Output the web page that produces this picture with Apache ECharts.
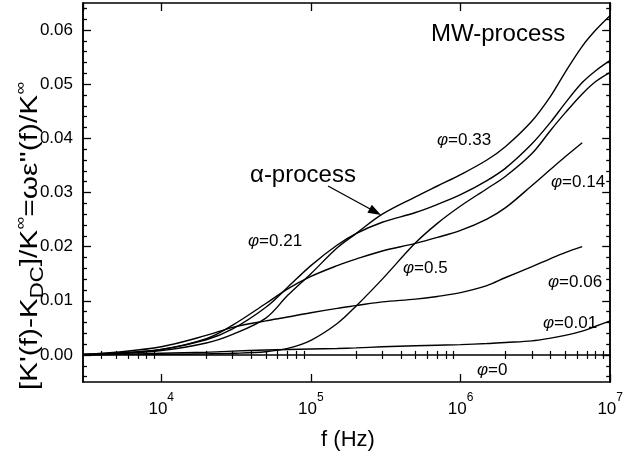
<!DOCTYPE html>
<html>
<head>
<meta charset="utf-8">
<script src="https://cdn.jsdelivr.net/npm/echarts@6/dist/echarts.min.js"></script>
<style>
  html, body { margin: 0; padding: 0; background: #fff; }
  #chart { width: 626px; height: 459px; }
</style>
</head>
<body>
<div id="chart"></div>
<script>
// Frequency grid (Hz)
const freq = [3e3, 5e3, 1e4, 2e4, 3e4, 5e4, 7e4, 1e5, 1.5e5, 2e5, 3e5, 5e5, 7e5,
              1e6, 1.5e6, 2e6, 3e6, 4e6, 5e6, 6.5e6, 8e6, 1e7];

// Normalised loss curves for each volume fraction phi
const phi0   = [0, 0, 0, 0, 0, 0, 0, 0, 0, 0, 0, 0, 0, 0, 0, 0, 0, 0, 0, 0, 0, 0];
const phi001 = [0.0000, 0.0001, 0.0003, 0.0005, 0.0007, 0.0009, 0.0010, 0.0011, 0.0012, 0.0013, 0.0015,
                0.0017, 0.0018, 0.0019, 0.0021, 0.0023, 0.0026, 0.0031, 0.0036, 0.0044, 0.0053, 0.0063];
const phi006 = [0.0001, 0.0005, 0.0015, 0.0036, 0.0051, 0.0063, 0.0070, 0.0078, 0.0086, 0.0091, 0.0098,
                0.0103, 0.0108, 0.0115, 0.0128, 0.0143, 0.0163, 0.0178, 0.0189, 0.0200];
const phi014 = [0.0001, 0.0003, 0.0010, 0.0030, 0.0055, 0.0095, 0.0122, 0.0145, 0.0165, 0.0177, 0.0192,
                0.0206, 0.0217, 0.0230, 0.0251, 0.0272, 0.0313, 0.0343, 0.0366, 0.0392];
const phi021 = [0.0001, 0.0003, 0.0010, 0.0028, 0.0048, 0.0088, 0.0125, 0.0165, 0.0203, 0.0224, 0.0245,
                0.0263, 0.0278, 0.0296, 0.0322, 0.0345, 0.0390, 0.0430, 0.0465, 0.0503, 0.0525, 0.0544];
const phi033 = [0.0001, 0.0002, 0.0008, 0.0022, 0.0038, 0.0068, 0.0110, 0.0150, 0.0198, 0.0224, 0.0260,
                0.0292, 0.0312, 0.0333, 0.0360, 0.0385, 0.0432, 0.0478, 0.0522, 0.0570, 0.0600, 0.0627];
const phi05  = [0.0000, 0.0001, 0.0001, 0.0002, 0.0003, 0.0006, 0.0012, 0.0027, 0.0058, 0.0090, 0.0140,
                0.0207, 0.0243, 0.0275, 0.0307, 0.0330, 0.0372, 0.0415, 0.0447, 0.0482, 0.0505, 0.0522];

// Axis ranges and tick values
const xMin = 3000, xMax = 1e7;
const yMin = -0.005, yMax = 0.065;
const yMajorTicks = [0, 0.01, 0.02, 0.03, 0.04, 0.05, 0.06];
const yMinorTicks = [-0.004, -0.002, 0.002, 0.004, 0.006, 0.008, 0.012, 0.014, 0.016, 0.018,
                     0.022, 0.024, 0.026, 0.028, 0.032, 0.034, 0.036, 0.038, 0.042, 0.044,
                     0.046, 0.048, 0.052, 0.054, 0.056, 0.058, 0.062, 0.064];
const xMinorTicks = [4e3, 5e3, 6e3, 7e3, 8e3, 9e3, 2e4, 3e4, 4e4, 5e4, 6e4, 7e4, 8e4, 9e4,
                     2e5, 3e5, 4e5, 5e5, 6e5, 7e5, 8e5, 9e5, 2e6, 3e6, 4e6, 5e6, 6e6, 7e6, 8e6, 9e6];

const FONT = '"Liberation Sans", Arial, sans-serif';
const INK = '#000';

function pairs(values) {
  return values.map((v, i) => [freq[i], v]);
}

const curves = [
  { name: 'phi=0', data: phi0 },
  { name: 'phi=0.01', data: phi001 },
  { name: 'phi=0.06', data: phi006 },
  { name: 'phi=0.14', data: phi014 },
  { name: 'phi=0.21', data: phi021 },
  { name: 'phi=0.33', data: phi033 },
  { name: 'phi=0.5', data: phi05 }
];

const axisLine = { show: true, onZero: false, lineStyle: { color: INK, width: 1.5 } };

function logXAxis(position, withLabels) {
  return {
    type: 'log', logBase: 10, min: xMin, max: xMax, position: position, gridIndex: 0,
    axisLine: axisLine,
    axisTick: { show: true, inside: true, length: 8, lineStyle: { color: INK, width: 1.3 } },
    splitLine: { show: false },
    axisLabel: withLabels ? {
      show: true, margin: 10, color: INK, fontFamily: FONT, fontSize: 17,
      showMinLabel: false,
      formatter: function (v) {
        const e = Math.round(Math.log10(v));
        if (Math.abs(v - Math.pow(10, e)) > 1e-6 * v) return '';
        return '{b|10}{s|' + e + '}';
      },
      rich: {
        b: { fontFamily: FONT, fontSize: 17, color: INK, lineHeight: 26, verticalAlign: 'bottom' },
        s: { fontFamily: FONT, fontSize: 12, color: INK, lineHeight: 12, verticalAlign: 'top' }
      }
    } : { show: false }
  };
}

function minorXAxis(position) {
  return {
    type: 'log', logBase: 10, min: xMin, max: xMax, position: position, gridIndex: 0,
    axisLine: { show: false },
    axisTick: { show: true, inside: true, length: 4, customValues: xMinorTicks,
                lineStyle: { color: INK, width: 1.2 } },
    axisLabel: { show: false, customValues: xMinorTicks },
    splitLine: { show: false }
  };
}

function yAxisDef(position, ticks, len, withLabels) {
  return {
    type: 'value', min: yMin, max: yMax, position: position, gridIndex: 0,
    axisLine: axisLine,
    axisTick: { show: true, inside: true, length: len, customValues: ticks,
                lineStyle: { color: INK, width: 1.3 } },
    axisLabel: withLabels ? {
      show: true, customValues: ticks, margin: 10, color: INK, fontFamily: FONT, fontSize: 17,
      formatter: v => v.toFixed(2)
    } : { show: false, customValues: ticks },
    splitLine: { show: false }
  };
}

// Text annotations placed on the plot
function phiLabel(x, y, val) {
  return {
    type: 'text', x: x, y: y,
    style: {
      text: '{p|φ}{t|=' + val + '}',
      verticalAlign: 'middle', align: 'left',
      rich: {
        p: { fontFamily: FONT, fontSize: 17, fontStyle: 'italic', fill: INK },
        t: { fontFamily: FONT, fontSize: 17, fill: INK }
      }
    }
  };
}

const chart = echarts.init(document.getElementById('chart'), null, { renderer: 'canvas' });

chart.setOption({
  backgroundColor: '#fff',
  animation: false,
  grid: { left: 83, right: 13, top: 3, bottom: 77, containLabel: false },
  xAxis: [
    logXAxis('bottom', true),
    minorXAxis('bottom'),
    logXAxis('top', false),
    minorXAxis('top')
  ],
  yAxis: [
    yAxisDef('left', yMajorTicks, 8, true),
    yAxisDef('left', yMinorTicks, 4, false),
    yAxisDef('right', yMajorTicks, 8, false),
    yAxisDef('right', yMinorTicks, 4, false)
  ],
  series: curves.map(c => ({
    type: 'line', name: c.name, xAxisIndex: 0, yAxisIndex: 0,
    data: pairs(c.data), showSymbol: false, symbol: 'none',
    smooth: 0.35,
    lineStyle: { color: INK, width: 1.4 },
    clip: true
  })),
  graphic: [
    {
      type: 'text', x: 30, y: 236, rotation: Math.PI / 2, scaleX: 1.3, scaleY: 1.05,
      style: {
        text: "{m|[K'(f)-K}{sub|DC}{m|]/K}{sup|∞}{m|=ωε''(f)/K}{sup|∞}",
        align: 'center', verticalAlign: 'middle',
        rich: {
          m: { fontFamily: FONT, fontSize: 23, fill: INK, lineHeight: 32, verticalAlign: 'middle' },
          sub: { fontFamily: FONT, fontSize: 17, fill: INK, lineHeight: 17, verticalAlign: 'bottom' },
          sup: { fontFamily: FONT, fontSize: 14, fill: INK, lineHeight: 14, verticalAlign: 'top' }
        }
      }
    },
    {
      type: 'text', x: 348, y: 440,
      style: { text: 'f (Hz)', fontFamily: FONT, fontSize: 22, fill: INK,
               align: 'center', verticalAlign: 'middle' }
    },
    {
      type: 'text', x: 431, y: 34,
      style: { text: 'MW-process', fontFamily: FONT, fontSize: 24, fill: INK,
               align: 'left', verticalAlign: 'middle' }
    },
    {
      type: 'text', x: 250, y: 175,
      style: { text: 'α-process', fontFamily: FONT, fontSize: 24, fill: INK,
               align: 'left', verticalAlign: 'middle' }
    },
    {
      type: 'line',
      shape: { x1: 328, y1: 186, x2: 372, y2: 210 },
      style: { stroke: INK, lineWidth: 1.4 }
    },
    {
      type: 'polygon',
      shape: { points: [[381, 215], [367.4, 212.7], [371.8, 204.8]] },
      style: { fill: INK }
    },
    phiLabel(437, 140, '0.33'),
    phiLabel(551, 182, '0.14'),
    phiLabel(248, 241, '0.21'),
    phiLabel(403, 268, '0.5'),
    phiLabel(548, 282, '0.06'),
    phiLabel(543, 323, '0.01'),
    phiLabel(477, 370, '0')
  ]
});
</script>
</body>
</html>
